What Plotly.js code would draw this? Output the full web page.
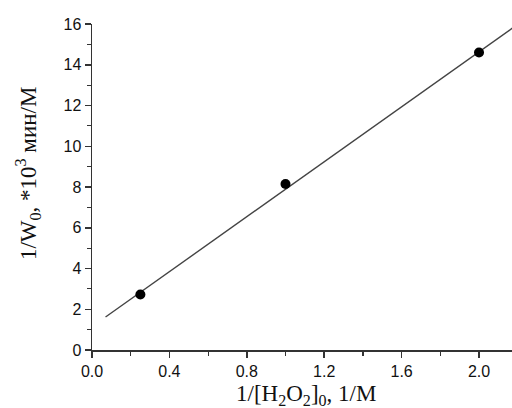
<!DOCTYPE html>
<html><head><meta charset="utf-8">
<script src="https://cdn.plot.ly/plotly-3.0.1.min.js"></script>
<style>html,body{margin:0;padding:0;background:#fff}#c{width:512px;height:408px}</style>
</head><body><div id="c"></div>
<script>
const pointsX = [0.25, 1.0, 2.0];
const pointsY = [2.72, 8.15, 14.6];
const fitX = [0.07, 2.2];
const fitY = [1.62, 15.98];
const xTickVals = [0.0, 0.4, 0.8, 1.2, 1.6, 2.0];
const xTickText = ['0.0', '0.4', '0.8', '1.2', '1.6', '2.0'];
const yTickVals = [0, 2, 4, 6, 8, 10, 12, 14, 16];
const xTitle = '1/[H<sub>2</sub>O<sub>2</sub>]<sub>0</sub>, 1/M';
const yTitle = '1/W<sub>0</sub>, *10<sup>3</sup> мин/М';

const traces = [
  {x: fitX, y: fitY, mode: 'lines', line: {color: '#444', width: 1.4}, hoverinfo: 'skip'},
  {x: pointsX, y: pointsY, mode: 'markers', marker: {color: '#000', size: 10}}
];
const axisCommon = {
  showgrid: false, zeroline: false, showline: true, linecolor: '#333', linewidth: 1.5,
  ticks: 'outside', ticklen: 6, tickwidth: 1.5, tickcolor: '#333',
  tickfont: {family: 'Liberation Sans, Arial, sans-serif', size: 16, color: '#111'}
};
const titleFont = {family: 'Liberation Serif, Times New Roman, serif', size: 23, color: '#111'};
const layout = {
  width: 512, height: 408,
  margin: {l: 92, r: 0, t: 24, b: 58},
  showlegend: false,
  paper_bgcolor: '#fff', plot_bgcolor: '#fff',
  xaxis: Object.assign({}, axisCommon, {
    range: [0, 2.1705], tickmode: 'array', tickvals: xTickVals, ticktext: xTickText,
    minor: {dtick: 0.2, ticks: 'outside', ticklen: 4, tickwidth: 1.2, tickcolor: '#333', showgrid: false}
  }),
  yaxis: Object.assign({}, axisCommon, {
    range: [0, 16], tickmode: 'array', tickvals: yTickVals,
    minor: {dtick: 1, ticks: 'outside', ticklen: 4, tickwidth: 1.2, tickcolor: '#333', showgrid: false}
  }),
  annotations: [
    {text: xTitle, xref: 'paper', yref: 'paper', x: 0.51, y: -0.137, xanchor: 'center', yanchor: 'middle',
     showarrow: false, font: titleFont},
    {text: yTitle, xref: 'paper', yref: 'paper', x: -0.152, y: 0.54, xanchor: 'center', yanchor: 'middle',
     textangle: -90, showarrow: false, font: titleFont}
  ]
};
Plotly.newPlot('c', traces, layout, {staticPlot: true, displayModeBar: false});
</script></body></html>
